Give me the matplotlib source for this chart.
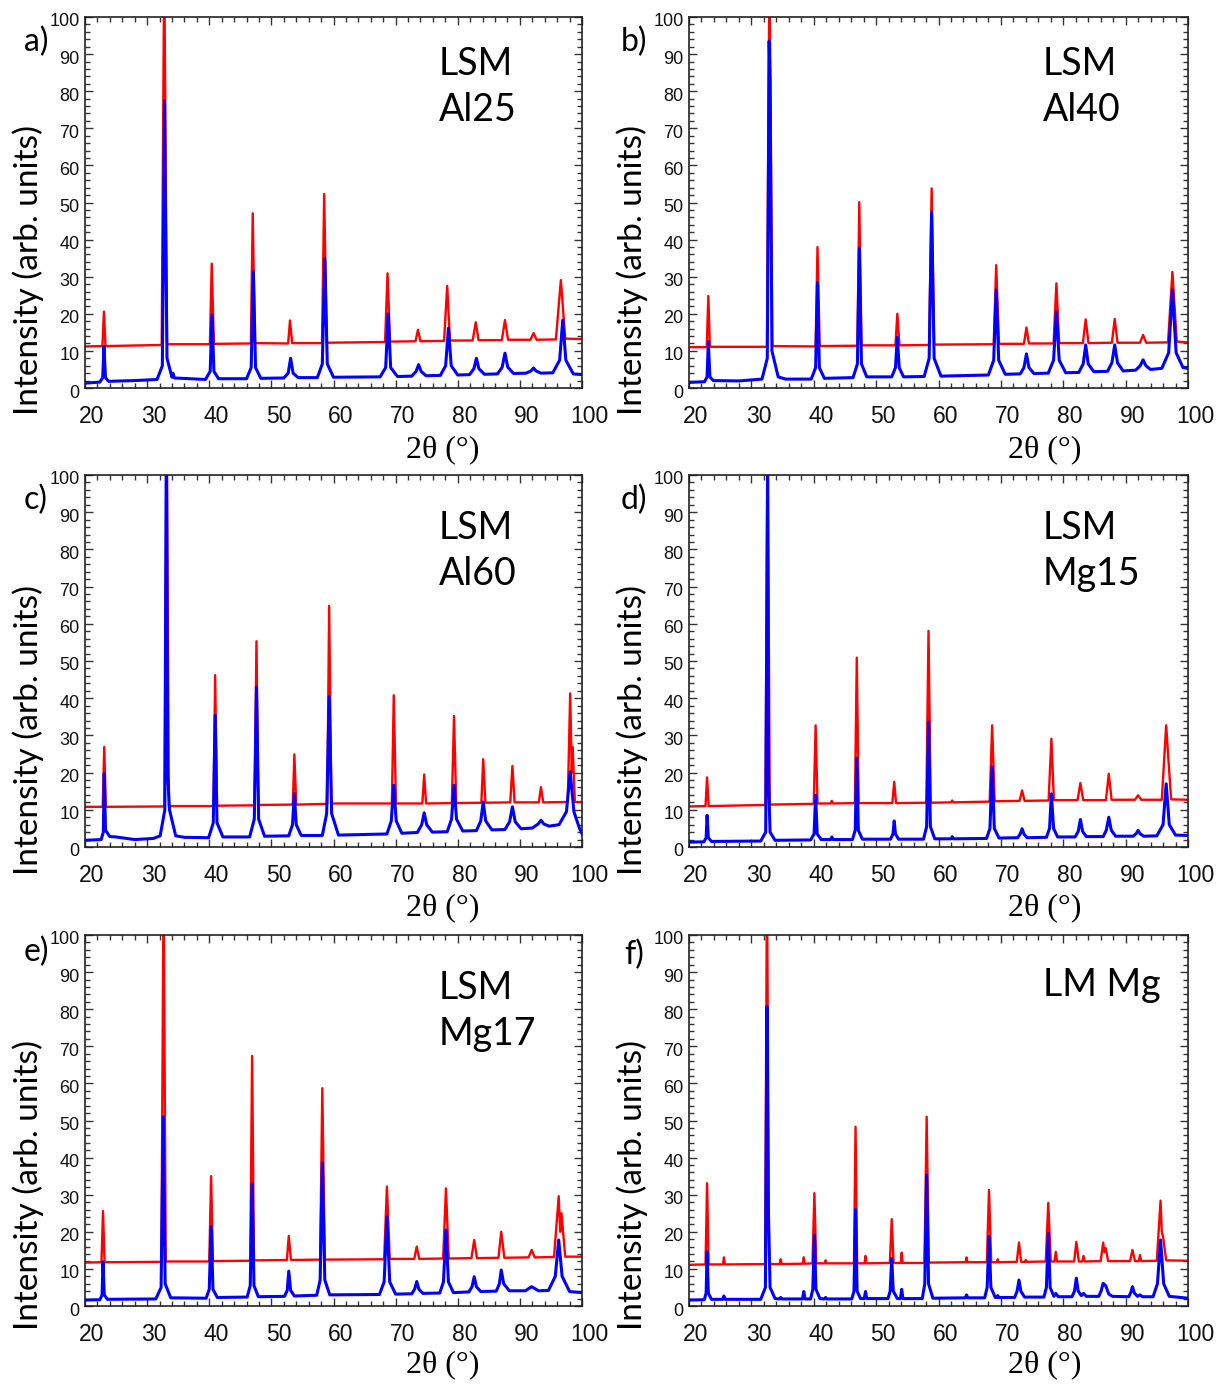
"""Six-panel XRD patterns (red / blue traces) for LSM and LM samples."""

import matplotlib

matplotlib.use("Agg")

import matplotlib.pyplot as plt
from matplotlib.ticker import MultipleLocator
from matplotlib.transforms import ScaledTranslation

# ---------------------------------------------------------------- data
PANEL_LETTERS = ["a)", "b)", "c)", "d)", "e)", "f)"]
SAMPLE_NAMES = ["LSM\nAl25", "LSM\nAl40", "LSM\nAl60", "LSM\nMg15", "LSM\nMg17", "LM Mg"]
X_TICKS = [20, 30, 40, 50, 60, 70, 80, 90, 100]
Y_TICKS = [0, 10, 20, 30, 40, 50, 60, 70, 80, 90, 100]

# traces as (2theta, intensity) vertices
A_RED = [
    (20.0, 11.2),
    (22.8, 11.3), (23.05, 20.6), (23.3, 11.3),
    (32.35, 11.6), (32.75, 115.0), (33.2, 11.8),
    (40.1, 11.8), (40.4, 33.5), (40.75, 11.9),
    (46.7, 12.0), (47.0, 47.1), (47.35, 12.1),
    (52.7, 12.0), (53.0, 18.2), (53.35, 12.1),
    (58.15, 12.1), (58.5, 52.3), (58.9, 12.2),
    (68.3, 12.4), (68.7, 30.9), (69.1, 12.5),
    (73.2, 12.6), (73.6, 15.7), (74.0, 12.6),
    (77.8, 12.7), (78.3, 27.5), (78.75, 12.8),
    (82.4, 12.8), (82.9, 17.7), (83.35, 12.9),
    (87.1, 12.9), (87.6, 18.3), (88.1, 13.0),
    (91.7, 13.0), (92.2, 14.8), (92.7, 13.0),
    (95.8, 13.1), (96.6, 29.1), (97.3, 13.3),
    (100.0, 13.2),
]
A_BLUE = [
    (20.0, 1.3),
    (22.4, 1.6), (22.85, 2.8), (23.05, 11.2), (23.3, 2.8), (23.8, 1.8),
    (28.0, 2.0),
    (31.6, 2.3), (32.45, 6.0), (32.8, 77.4), (32.95, 47.0), (33.2, 8.0),
    (34.0, 2.9), (34.15, 4.0), (34.4, 2.7),
    (39.4, 2.3), (40.15, 4.5), (40.45, 19.7), (40.75, 4.5), (41.5, 2.5),
    (46.0, 2.5), (46.75, 5.5), (47.1, 31.3), (47.45, 5.5), (48.3, 2.6),
    (52.0, 2.7), (52.7, 4.0), (53.1, 8.0), (53.5, 4.0), (54.3, 2.8),
    (57.4, 2.8), (58.2, 6.5), (58.6, 34.9), (59.0, 6.5), (60.0, 2.9),
    (67.5, 3.0), (68.4, 5.5), (68.8, 20.0), (69.2, 5.5), (70.3, 3.1),
    (72.6, 3.2), (73.3, 4.5), (73.7, 6.3), (74.1, 4.5), (74.9, 3.3),
    (77.2, 3.4), (78.05, 6.0), (78.5, 16.1), (78.95, 6.0), (80.0, 3.5),
    (81.9, 3.6), (82.6, 5.2), (83.0, 8.0), (83.4, 5.2), (84.3, 3.7),
    (86.4, 3.8), (87.15, 5.6), (87.6, 9.4), (88.05, 5.6), (89.0, 3.9),
    (91.0, 4.0), (91.8, 4.6), (92.2, 5.4), (92.6, 4.6), (93.4, 4.0),
    (95.3, 4.1), (96.4, 7.5), (96.9, 18.3), (97.4, 7.5), (98.6, 3.8),
    (100.0, 3.6),
]

B_RED = [
    (20.0, 11.0),
    (22.85, 11.0), (23.1, 24.8), (23.35, 11.1),
    (32.5, 11.1), (32.9, 115.0), (33.35, 11.3),
    (40.3, 11.2), (40.6, 38.0), (40.95, 11.3),
    (47.0, 11.4), (47.3, 50.1), (47.65, 11.5),
    (53.1, 11.5), (53.4, 20.0), (53.75, 11.5),
    (58.5, 11.6), (58.9, 53.8), (59.3, 11.7),
    (68.85, 11.8), (69.25, 33.1), (69.7, 11.9),
    (73.7, 11.9), (74.1, 16.3), (74.5, 12.0),
    (78.45, 12.0), (78.9, 28.2), (79.35, 12.1),
    (83.15, 12.1), (83.6, 18.5), (84.05, 12.1),
    (87.8, 12.2), (88.25, 18.6), (88.7, 12.2),
    (92.3, 12.2), (92.8, 14.3), (93.3, 12.2),
    (96.8, 12.3), (97.5, 31.3), (98.2, 12.5),
    (100.0, 12.3),
]
B_BLUE = [
    (20.0, 1.5),
    (22.5, 1.7), (22.9, 3.0), (23.1, 12.5), (23.35, 3.0), (23.9, 2.0),
    (28.0, 1.9),
    (31.7, 2.4), (32.55, 8.0), (32.85, 93.5), (33.0, 83.0), (33.3, 10.0), (34.3, 3.0),
    (35.5, 2.4),
    (39.6, 2.4), (40.3, 5.5), (40.6, 28.4), (40.9, 5.5), (41.7, 2.6),
    (46.3, 2.8), (47.0, 6.5), (47.3, 37.6), (47.65, 6.5), (48.5, 3.0),
    (52.5, 3.0), (53.1, 5.5), (53.4, 13.7), (53.7, 5.5), (54.4, 3.0),
    (57.7, 3.1), (58.5, 8.0), (58.9, 47.4), (59.3, 8.0), (60.4, 3.2),
    (68.0, 3.5), (68.85, 7.5), (69.25, 26.4), (69.65, 7.5), (70.7, 3.7),
    (73.1, 3.8), (73.7, 5.5), (74.1, 9.2), (74.5, 5.5), (75.3, 3.9),
    (77.6, 4.0), (78.45, 7.5), (78.9, 20.6), (79.35, 7.5), (80.4, 4.1),
    (82.5, 4.2), (83.2, 6.5), (83.6, 11.6), (84.0, 6.5), (84.9, 4.4),
    (87.1, 4.5), (87.8, 6.8), (88.25, 11.6), (88.7, 6.8), (89.6, 4.6),
    (91.6, 4.8), (92.35, 6.0), (92.8, 7.6), (93.25, 6.0), (94.0, 5.0),
    (95.8, 5.3), (96.9, 9.5), (97.5, 26.4), (98.1, 9.5), (99.2, 5.5),
    (100.0, 5.3),
]

C_RED = [
    (20.0, 10.8),
    (22.85, 10.8), (23.1, 26.9), (23.35, 10.8),
    (32.8, 10.9), (33.15, 115.0), (33.5, 11.0),
    (40.7, 11.0), (40.95, 46.2), (41.25, 11.1),
    (47.3, 11.2), (47.6, 55.3), (47.9, 11.3),
    (53.45, 11.4), (53.7, 24.9), (54.0, 11.4),
    (59.0, 11.6), (59.3, 64.8), (59.65, 11.7),
    (69.4, 11.7), (69.7, 40.8), (70.05, 11.7),
    (74.3, 11.7), (74.6, 19.5), (74.9, 11.7),
    (79.05, 11.8), (79.4, 35.2), (79.75, 11.8),
    (83.8, 11.9), (84.1, 23.6), (84.45, 11.9),
    (88.45, 12.0), (88.8, 21.8), (89.15, 12.0),
    (93.05, 12.0), (93.4, 16.1), (93.75, 12.0),
    (97.7, 12.1), (98.1, 41.3), (98.35, 20.0), (98.5, 26.9), (98.85, 12.1),
    (100.0, 12.1),
]
C_BLUE = [
    (20.0, 1.8),
    (22.6, 2.0), (22.95, 4.0), (23.1, 19.7), (23.3, 4.5), (24.0, 2.8),
    (25.0, 2.7), (28.0, 2.0), (31.0, 2.3),
    (32.1, 3.0), (32.85, 10.0), (33.1, 115.0), (33.3, 20.0), (33.6, 10.0), (34.6, 3.0),
    (36.0, 2.6),
    (39.9, 2.5), (40.65, 6.5), (40.95, 35.4), (41.25, 6.5), (42.2, 2.7),
    (46.5, 2.7), (47.25, 7.5), (47.6, 43.0), (47.95, 7.5), (48.9, 2.9),
    (52.8, 3.0), (53.4, 6.0), (53.7, 14.3), (54.0, 6.0), (54.8, 3.1),
    (58.2, 3.1), (58.9, 9.0), (59.3, 40.4), (59.7, 9.0), (60.8, 3.2),
    (68.6, 3.5), (69.3, 7.0), (69.7, 16.6), (70.1, 7.0), (71.0, 3.7),
    (73.5, 3.9), (74.2, 6.0), (74.6, 9.2), (75.0, 6.0), (75.9, 4.0),
    (78.3, 4.1), (79.0, 7.5), (79.4, 16.6), (79.8, 7.5), (80.8, 4.3),
    (83.0, 4.4), (83.7, 7.0), (84.1, 12.1), (84.5, 7.0), (85.5, 4.6),
    (87.6, 4.7), (88.35, 6.8), (88.8, 10.8), (89.25, 6.8), (90.2, 4.9),
    (92.0, 5.1), (92.95, 6.2), (93.4, 7.2), (93.85, 6.2), (94.7, 5.6),
    (96.3, 6.0), (97.5, 9.5), (98.1, 20.2), (98.7, 9.5), (99.6, 5.0),
    (100.0, 3.6),
]

D_RED = [
    (20.0, 10.9),
    (22.65, 11.0), (22.9, 18.7), (23.15, 11.0),
    (32.25, 11.3), (32.6, 115.0), (32.95, 11.4),
    (40.0, 11.6), (40.3, 32.7), (40.6, 11.7),
    (42.7, 11.7), (42.9, 12.4), (43.1, 11.7),
    (46.6, 11.8), (46.9, 50.9), (47.2, 11.8),
    (52.6, 11.8), (52.9, 17.5), (53.2, 11.8),
    (58.05, 11.9), (58.4, 58.1), (58.75, 11.9),
    (62.0, 12.0), (62.2, 12.5), (62.4, 12.0),
    (68.2, 12.2), (68.6, 32.7), (69.0, 12.3),
    (73.0, 12.4), (73.4, 15.2), (73.8, 12.4),
    (77.65, 12.5), (78.1, 29.1), (78.5, 12.6),
    (82.3, 12.6), (82.75, 17.2), (83.2, 12.6),
    (86.85, 12.6), (87.3, 19.7), (87.75, 12.7),
    (91.5, 12.7), (92.0, 13.9), (92.5, 12.7),
    (95.8, 12.7), (96.5, 32.7), (96.8, 25.0), (97.3, 12.8),
    (100.0, 12.7),
]
D_BLUE = [
    (20.0, 1.3),
    (22.4, 1.4), (22.75, 2.5), (22.9, 8.5), (23.1, 2.5), (23.6, 1.5),
    (31.5, 1.6), (32.3, 4.0), (32.6, 102.0), (32.75, 18.0), (33.0, 4.0), (33.8, 1.8),
    (39.5, 1.9), (40.05, 3.5), (40.3, 13.9), (40.55, 3.5), (41.2, 2.0),
    (42.7, 2.0), (42.9, 2.7), (43.1, 2.0),
    (46.2, 2.0), (46.65, 4.5), (46.9, 23.8), (47.15, 4.5), (47.8, 2.1),
    (52.3, 2.1), (52.7, 3.5), (52.9, 7.0), (53.1, 3.5), (53.6, 2.1),
    (57.6, 2.1), (58.1, 5.5), (58.4, 33.6), (58.7, 5.5), (59.4, 2.2),
    (62.0, 2.2), (62.2, 2.8), (62.4, 2.2),
    (67.7, 2.3), (68.25, 5.0), (68.6, 21.5), (68.95, 5.0), (69.7, 2.4),
    (72.7, 2.5), (73.1, 3.5), (73.4, 4.9), (73.7, 3.5), (74.2, 2.5),
    (77.3, 2.6), (77.8, 5.0), (78.1, 14.3), (78.45, 5.0), (79.1, 2.7),
    (81.9, 2.7), (82.4, 4.2), (82.75, 7.4), (83.1, 4.2), (83.7, 2.8),
    (86.4, 2.8), (86.9, 4.5), (87.3, 8.0), (87.7, 4.5), (88.4, 2.9),
    (91.2, 2.9), (91.7, 3.6), (92.0, 4.5), (92.3, 3.6), (92.9, 2.9),
    (95.0, 3.0), (96.0, 6.0), (96.5, 17.0), (97.0, 6.0), (98.0, 3.2),
    (100.0, 3.1),
]

E_RED = [
    (20.0, 11.7),
    (22.65, 11.8), (22.9, 25.6), (23.15, 11.8),
    (32.3, 11.9), (32.65, 115.0), (33.0, 12.0),
    (40.0, 12.0), (40.3, 35.0), (40.6, 12.1),
    (46.6, 12.2), (46.9, 67.4), (47.2, 12.3),
    (52.5, 12.4), (52.8, 18.9), (53.15, 12.4),
    (57.85, 12.5), (58.2, 58.7), (58.6, 12.5),
    (68.15, 12.6), (68.6, 32.2), (69.05, 12.7),
    (73.0, 12.7), (73.4, 16.0), (73.8, 12.7),
    (77.65, 12.8), (78.1, 31.7), (78.55, 12.8),
    (82.2, 12.9), (82.65, 17.8), (83.1, 12.9),
    (86.55, 13.0), (87.0, 20.0), (87.5, 13.0),
    (91.4, 13.1), (91.9, 15.1), (92.4, 13.1),
    (95.5, 13.2), (96.25, 29.6), (96.5, 20.0), (96.7, 25.0), (97.3, 13.3),
    (100.0, 13.3),
]
E_BLUE = [
    (20.0, 1.6),
    (22.4, 1.7), (22.75, 3.0), (22.9, 11.9), (23.1, 3.0), (23.6, 1.8),
    (31.4, 1.9), (32.25, 5.0), (32.6, 51.0), (32.9, 6.0), (33.8, 2.2),
    (39.5, 2.1), (40.0, 4.5), (40.3, 21.4), (40.6, 4.5), (41.3, 2.3),
    (46.1, 2.4), (46.6, 5.5), (46.9, 33.0), (47.2, 5.5), (47.9, 2.5),
    (52.1, 2.6), (52.55, 4.2), (52.8, 9.4), (53.1, 4.2), (53.7, 2.7),
    (57.3, 2.9), (57.85, 7.0), (58.2, 38.5), (58.6, 7.0), (59.4, 3.0),
    (67.4, 3.1), (68.15, 6.5), (68.6, 24.0), (69.05, 6.5), (70.0, 3.2),
    (72.6, 3.3), (73.05, 4.5), (73.4, 6.6), (73.75, 4.5), (74.4, 3.4),
    (77.1, 3.5), (77.7, 6.5), (78.1, 20.5), (78.5, 6.5), (79.3, 3.6),
    (81.8, 3.8), (82.3, 5.2), (82.65, 7.9), (83.0, 5.2), (83.7, 3.9),
    (86.2, 4.0), (86.7, 6.0), (87.0, 9.7), (87.4, 6.0), (88.3, 4.1),
    (90.9, 4.1), (91.5, 4.8), (91.9, 5.2), (92.3, 4.8), (93.0, 4.1),
    (94.6, 4.2), (95.7, 8.0), (96.25, 17.8), (96.8, 8.0), (98.0, 3.9),
    (100.0, 3.6),
]

F_RED = [
    (20.0, 11.1),
    (22.65, 11.2), (22.9, 33.1), (23.15, 11.2),
    (25.45, 11.2), (25.6, 13.1), (25.75, 11.2),
    (32.2, 11.3), (32.5, 115.0), (32.85, 11.3),
    (34.55, 11.3), (34.7, 12.6), (34.85, 11.3),
    (38.25, 11.4), (38.4, 13.1), (38.55, 11.4),
    (39.8, 11.5), (40.1, 30.4), (40.4, 11.5),
    (41.75, 11.5), (41.9, 12.3), (42.05, 11.5),
    (46.45, 11.5), (46.7, 48.3), (46.95, 11.5),
    (48.15, 11.5), (48.3, 13.5), (48.45, 11.5),
    (52.2, 11.6), (52.5, 23.4), (52.8, 11.6),
    (53.95, 11.6), (54.1, 14.4), (54.25, 11.6),
    (57.75, 11.6), (58.1, 51.0), (58.45, 11.7),
    (64.35, 11.8), (64.5, 13.1), (64.65, 11.8),
    (67.75, 11.8), (68.1, 31.3), (68.45, 11.8),
    (69.35, 11.8), (69.5, 12.6), (69.65, 11.8),
    (72.55, 11.9), (72.9, 17.1), (73.25, 11.9),
    (73.85, 11.9), (74.0, 12.4), (74.15, 11.9),
    (77.2, 12.0), (77.6, 27.8), (78.0, 12.0),
    (78.6, 12.0), (78.8, 14.6), (79.0, 12.0),
    (81.75, 12.0), (82.1, 17.3), (82.5, 12.0),
    (83.05, 12.0), (83.25, 13.5), (83.45, 12.0),
    (86.0, 12.1), (86.4, 17.1), (86.6, 14.5), (86.8, 15.6), (87.2, 12.1),
    (90.7, 12.1), (91.1, 15.1), (91.5, 12.1),
    (92.1, 12.1), (92.3, 13.7), (92.5, 12.1),
    (95.0, 12.2), (95.6, 28.4), (95.8, 20.0), (96.0, 18.7), (96.5, 12.3),
    (100.0, 12.2),
]
F_BLUE = [
    (20.0, 1.6),
    (22.45, 1.7), (22.75, 3.5), (22.9, 14.6), (23.1, 3.5), (23.6, 1.8),
    (25.4, 1.8), (25.6, 2.7), (25.8, 1.8),
    (31.5, 1.8), (32.25, 5.0), (32.5, 80.7), (32.7, 27.0), (33.0, 5.0), (33.8, 2.0),
    (34.5, 1.9), (34.7, 2.3), (34.9, 1.9),
    (38.2, 1.9), (38.4, 3.9), (38.6, 1.9),
    (39.5, 1.9), (39.85, 4.5), (40.1, 19.1), (40.35, 4.5), (41.0, 2.0),
    (41.7, 1.9), (41.9, 2.3), (42.1, 1.9),
    (46.1, 1.9), (46.45, 4.0), (46.7, 26.0), (46.95, 4.0), (47.5, 2.0),
    (48.1, 2.0), (48.3, 3.9), (48.5, 2.0),
    (51.9, 2.0), (52.25, 4.0), (52.5, 12.8), (52.75, 4.0), (53.4, 2.0),
    (53.9, 2.0), (54.1, 4.5), (54.3, 2.0),
    (57.4, 2.0), (57.8, 6.0), (58.1, 35.3), (58.4, 6.0), (59.1, 2.1),
    (64.3, 2.2), (64.5, 3.0), (64.7, 2.2),
    (67.4, 2.2), (67.8, 5.0), (68.1, 18.7), (68.4, 5.0), (69.1, 2.3),
    (69.35, 2.3), (69.5, 2.8), (69.65, 2.3),
    (72.2, 2.3), (72.6, 4.0), (72.9, 7.0), (73.2, 4.0), (73.8, 2.4),
    (76.9, 2.4), (77.3, 5.0), (77.6, 19.6), (77.9, 5.0), (78.5, 2.6),
    (78.8, 3.4), (79.2, 2.5),
    (81.4, 2.5), (81.8, 4.0), (82.1, 7.5), (82.4, 4.0), (82.9, 2.8),
    (83.25, 3.4), (83.7, 2.6),
    (85.7, 2.6), (86.1, 4.2), (86.4, 6.1), (86.8, 5.5), (87.3, 3.2), (87.9, 2.6),
    (90.5, 2.5), (90.8, 3.5), (91.1, 5.2), (91.4, 3.5), (91.9, 2.6),
    (92.3, 3.0), (92.7, 2.5),
    (94.4, 2.5), (95.1, 6.0), (95.6, 17.8), (96.1, 6.0), (97.0, 2.6),
    (100.0, 2.1),
]

RED_TRACES = [A_RED, B_RED, C_RED, D_RED, E_RED, F_RED]
BLUE_TRACES = [A_BLUE, B_BLUE, C_BLUE, D_BLUE, E_BLUE, F_BLUE]

# ---------------------------------------------------------------- layout (pixels)
FIG_W, FIG_H = 1218, 1385
COL_X = [(85, 582), (689, 1188)]
ROW_Y = [(17, 388), (475, 847), (935, 1306)]
YLABEL_Y = [270, 730, 1185]
YLABEL_X = [28, 632]
XLABEL_Y = [450, 908, 1365]
XLABEL_X = [443, 1045]
LETTER_POS = [(36, 42), (634, 42), (36, 500), (634, 500), (36, 952), (634, 955)]
NAME_OFFSET_X = 354
NAME_TOP = [46, 46, 510, 510, 970, 967]

SANS = "Lato"
TICK_FONT = "Liberation Sans"
SERIF = "Liberation Serif"


def fx(px):
    return px / FIG_W


def fy(py):
    return 1 - py / FIG_H


def style_axes(ax, fig):
    ax.set_xlim(20, 100)
    ax.set_ylim(0, 100)
    ax.set_xticks(X_TICKS)
    ax.set_yticks(Y_TICKS)
    ax.xaxis.set_minor_locator(MultipleLocator(2))
    ax.yaxis.set_minor_locator(MultipleLocator(2))
    ax.tick_params(which="both", direction="in", top=True, right=True,
                   color="#333333", width=1.0)
    ax.tick_params(which="major", length=6)
    ax.tick_params(which="minor", length=3.5)
    ax.tick_params(axis="x", labelsize=16.5, pad=12)
    ax.tick_params(axis="y", labelsize=13, pad=4)
    for lab in ax.get_xticklabels() + ax.get_yticklabels():
        lab.set_fontfamily(TICK_FONT)
        lab.set_color("#111111")
    shift_x = ScaledTranslation(7 / 100, 0, fig.dpi_scale_trans)
    shift_y = ScaledTranslation(0, -3 / 100, fig.dpi_scale_trans)
    for lab in ax.get_xticklabels():
        lab.set_transform(lab.get_transform() + shift_x)
    for lab in ax.get_yticklabels():
        lab.set_transform(lab.get_transform() + shift_y)
    for spine in ax.spines.values():
        spine.set_color("#222222")
        spine.set_linewidth(1.2)


def main():
    fig = plt.figure(figsize=(FIG_W / 100, FIG_H / 100), dpi=100)

    for i in range(6):
        row, col = divmod(i, 2)
        left, right = COL_X[col]
        top, bottom = ROW_Y[row]
        ax = fig.add_axes([fx(left), fy(bottom), (right - left) / FIG_W,
                           (bottom - top) / FIG_H])

        xs, ys = zip(*RED_TRACES[i])
        ax.plot(xs, ys, color="#ff0000", lw=1.7, zorder=2)
        xs, ys = zip(*BLUE_TRACES[i])
        ax.plot(xs, ys, color="#0000ff", lw=2.2, zorder=3)

        style_axes(ax, fig)

        fig.text(fx(left + NAME_OFFSET_X), fy(NAME_TOP[i]), SAMPLE_NAMES[i],
                 family=SANS, fontsize=27, ha="left", va="top",
                 linespacing=1.35)
        lx, ly = LETTER_POS[i]
        fig.text(fx(lx), fy(ly), PANEL_LETTERS[i], family=SANS, fontsize=23,
                 ha="center", va="center")
        fig.text(fx(YLABEL_X[col]), fy(YLABEL_Y[row]), "Intensity (arb. units)",
                 family=SANS, fontsize=24, rotation=90, ha="center", va="center")
        fig.text(fx(XLABEL_X[col]), fy(XLABEL_Y[row]), "2\u03b8 (\u00b0)",
                 family=SERIF, fontsize=23, ha="center", va="center")

    fig.savefig("out.png", dpi=100, facecolor="white")
    plt.close(fig)


if __name__ == "__main__":
    main()
